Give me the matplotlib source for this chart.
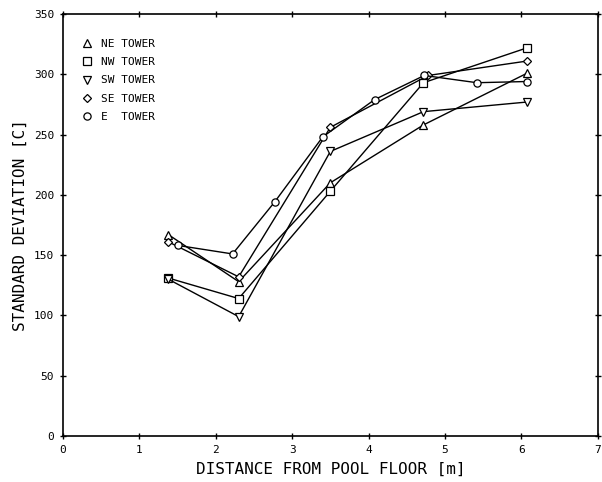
import matplotlib.pyplot as plt

# datos
ne_x = [1.38, 2.3, 3.5, 4.72, 6.08]
ne_y = [167, 128, 210, 258, 301]
nw_x = [1.38, 2.3, 3.5, 4.72, 6.08]
nw_y = [131, 114, 203, 293, 322]
sw_x = [1.38, 2.3, 3.5, 4.72, 6.08]
sw_y = [130, 99, 236, 269, 277]
se_x = [1.38, 2.3, 3.5, 4.78, 6.08]
se_y = [161, 132, 256, 299, 311]
e_x = [1.51, 2.22, 2.77, 3.4, 4.08, 4.73, 5.42, 6.08]
e_y = [158, 151, 194, 248, 279, 299, 293, 294]

series = [
    (ne_x, ne_y, '^', 'NE TOWER'),
    (nw_x, nw_y, 's', 'NW TOWER'),
    (sw_x, sw_y, 'v', 'SW TOWER'),
    (se_x, se_y, 'D', 'SE TOWER'),
    (e_x, e_y, 'o', 'E  TOWER'),
]

plt.rcParams['font.family'] = 'DejaVu Sans Mono'

fig = plt.figure(figsize=(6.02, 4.82), dpi=100)
ax = fig.add_axes([0.1047, 0.0954, 0.888, 0.8756])

for x, y, m, lab in series:
    ms = 4 if m == 'D' else 5.2
    ax.plot(x, y, color='black', lw=1.0, marker=m, ms=ms,
            mfc='white', mec='black', mew=0.9, label=lab)

ax.set_xlim(0, 7)
ax.set_ylim(0, 350)
ax.set_xticks(range(0, 8))
ax.set_yticks(range(0, 351, 50))
ax.tick_params(direction='inout', length=5, width=1, top=True, right=True,
               labelsize=8, pad=4)
for s in ax.spines.values():
    s.set_linewidth(1.2)

ax.set_xlabel('DISTANCE FROM POOL FLOOR [m]', fontsize=11.5, labelpad=5)
ax.set_ylabel('STANDARD DEVIATION [C]', fontsize=11.5, labelpad=4)

leg = ax.legend(loc='upper left', bbox_to_anchor=(0.015, 0.965), frameon=False,
                handlelength=1.0, numpoints=1, fontsize=8, labelspacing=0.75,
                handletextpad=0.8)
for h in leg.get_lines():
    h.set_linestyle('none')

plt.savefig('out.png', dpi=100)
